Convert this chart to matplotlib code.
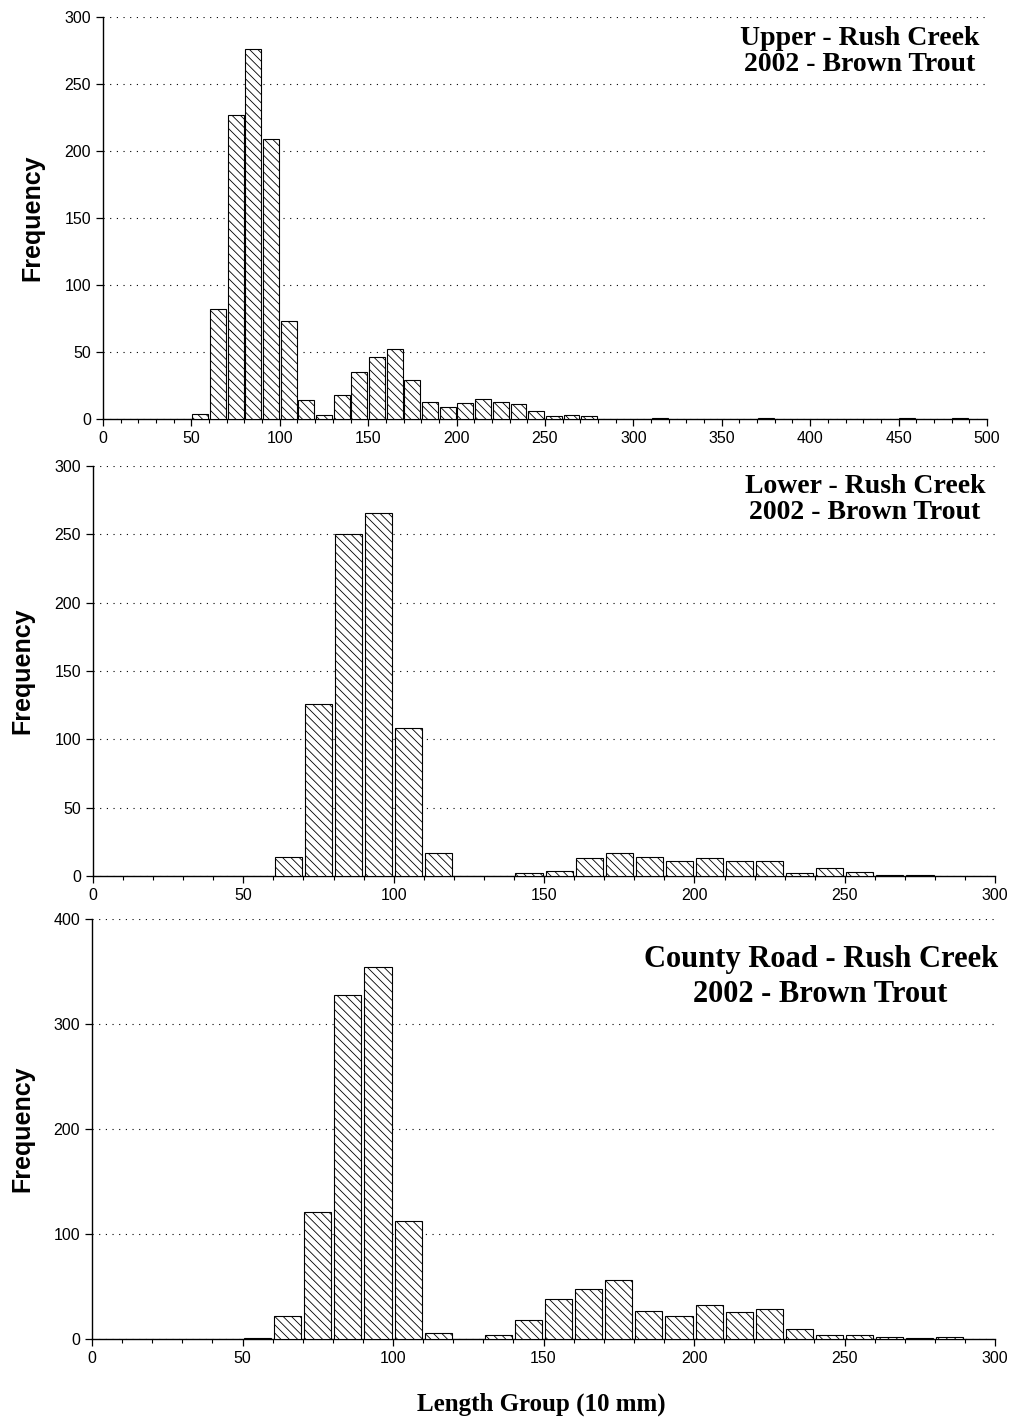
import matplotlib
matplotlib.use("Agg")
import matplotlib.pyplot as plt
from matplotlib.ticker import MultipleLocator

# length groups (bin start, 10 mm units) and fish counts
upper_bins = [50, 60, 70, 80, 90, 100, 110, 120, 130, 140, 150, 160, 170, 180,
              190, 200, 210, 220, 230, 240, 250, 260, 270, 310, 370, 450, 480]
upper_counts = [4, 82, 227, 276, 209, 73, 14, 3, 18, 35, 46, 52, 29, 13,
                9, 12, 15, 13, 11, 6, 2, 3, 2, 1, 1, 1, 1]

lower_bins = [60, 70, 80, 90, 100, 110, 140, 150, 160, 170, 180, 190, 200,
              210, 220, 230, 240, 250, 260, 270]
lower_counts = [14, 126, 250, 266, 108, 17, 2, 4, 13, 17, 14, 11, 13,
                11, 11, 2, 6, 3, 1, 1]

county_bins = [50, 60, 70, 80, 90, 100, 110, 130, 140, 150, 160, 170, 180,
               190, 200, 210, 220, 230, 240, 250, 260, 270, 280]
county_counts = [1, 22, 121, 328, 354, 112, 6, 4, 18, 38, 48, 56, 27,
                 22, 32, 26, 29, 10, 4, 4, 2, 1, 2]

plt.rcParams["font.family"] = ["Liberation Sans", "DejaVu Sans"]
plt.rcParams["hatch.linewidth"] = 0.6

fig = plt.figure(figsize=(10.16, 14.18), dpi=100)


def make_panel(rect, bins, counts, xmax, ymax, ystep, title, tsize, tpos, lspace, ylab_x):
    ax = fig.add_axes(rect)
    centers = [b + 5 for b in bins]
    ax.bar(centers, counts, width=9, color="white", edgecolor="black",
           linewidth=0.8, hatch="\\\\\\\\", zorder=3)
    ax.set_xlim(0, xmax)
    ax.set_ylim(0, ymax)
    ax.xaxis.set_major_locator(MultipleLocator(50))
    ax.xaxis.set_minor_locator(MultipleLocator(10))
    ax.yaxis.set_major_locator(MultipleLocator(ystep))
    for s in ["top", "right"]:
        ax.spines[s].set_visible(False)
    ax.spines["left"].set_linewidth(1.0)
    ax.spines["bottom"].set_linewidth(1.0)
    ax.tick_params(axis="both", which="major", direction="out", length=5,
                   width=0.9, labelsize=11.5, colors="black")
    ax.tick_params(axis="x", which="minor", direction="out", length=3, width=0.8)
    ax.grid(axis="y", color="black", linestyle=(0, (1, 5)), linewidth=0.8, zorder=1)
    ax.set_axisbelow(True)
    ax.set_ylabel("Frequency", fontsize=18, fontweight="bold")
    ax.yaxis.set_label_coords(ylab_x, 0.5)
    ax.text(tpos[0], tpos[1], title, transform=ax.transAxes, ha="right", va="top",
            multialignment="center", fontsize=tsize, fontweight="bold",
            family="Liberation Serif", linespacing=lspace)
    return ax


make_panel([0.1014, 0.7045, 0.870, 0.2835], upper_bins, upper_counts, 500, 300, 50,
           "Upper - Rush Creek\n2002 - Brown Trout", 20, (0.992, 0.977), 1.02, -0.066)
make_panel([0.0915, 0.3822, 0.888, 0.2891], lower_bins, lower_counts, 300, 300, 50,
           "Lower - Rush Creek\n2002 - Brown Trout", 20, (0.989, 0.980), 1.02, -0.065)
make_panel([0.0906, 0.0557, 0.8888, 0.2962], county_bins, county_counts, 300, 400, 100,
           "County Road - Rush Creek\n2002 - Brown Trout", 22, (1.003, 0.938), 1.25, -0.064)

fig.text(541 / 1016, 1 - 1404 / 1418, "Length Group (10 mm)", ha="center", va="center",
         fontsize=18, fontweight="bold", family="Liberation Serif")

fig.savefig("out.png", dpi=100)
